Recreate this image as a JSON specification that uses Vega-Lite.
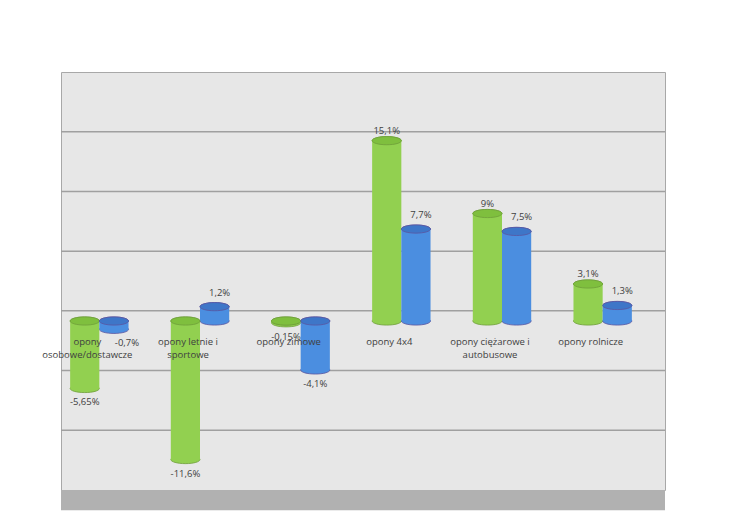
{
  "$schema": "https://vega.github.io/schema/vega-lite/v6.json",
  "autosize": {"type": "none"},
  "width": 604,
  "height": 418,
  "padding": {"left": 61, "top": 72, "right": 74, "bottom": 34},
  "background": "white",
  "config": {
    "font": "Open Sans",
    "view": {"fill": "#e7e7e7", "stroke": "#a8a8a8", "strokeWidth": 1}
  },
  "data": {
    "values": [
      {"cat": "osobowe", "series": "Polska", "value": -5.65, "label": "-5,65%"},
      {"cat": "osobowe", "series": "Europa", "value": -0.7, "label": "-0,7%"},
      {"cat": "letnie", "series": "Polska", "value": -11.6, "label": "-11,6%"},
      {"cat": "letnie", "series": "Europa", "value": 1.2, "label": "1,2%"},
      {"cat": "zimowe", "series": "Polska", "value": -0.15, "label": "-0,15%"},
      {"cat": "zimowe", "series": "Europa", "value": -4.1, "label": "-4,1%"},
      {"cat": "4x4", "series": "Polska", "value": 15.1, "label": "15,1%"},
      {"cat": "4x4", "series": "Europa", "value": 7.7, "label": "7,7%"},
      {"cat": "ciezarowe", "series": "Polska", "value": 9, "label": "9%"},
      {"cat": "ciezarowe", "series": "Europa", "value": 7.5, "label": "7,5%"},
      {"cat": "rolnicze", "series": "Polska", "value": 3.1, "label": "3,1%"},
      {"cat": "rolnicze", "series": "Europa", "value": 1.3, "label": "1,3%"}
    ]
  },
  "resolve": {"scale": {"y": "independent"}},
  "layer": [
    {
      "data": {"values": [{"g": -10}, {"g": -5}, {"g": 0}, {"g": 5}, {"g": 10}, {"g": 15}]},
      "mark": {"type": "rule", "color": "#a0a0a0", "strokeWidth": 1.5},
      "encoding": {
        "y": {"field": "g", "type": "quantitative", "axis": null, "scale": {"domain": [-15, 20], "nice": false, "zero": false}}
      }
    },
    {
      "data": {"values": [{"f": 1}]},
      "mark": {"type": "rect", "color": "#b1b1b1", "clip": false},
      "encoding": {
        "y": {"datum": -15, "type": "quantitative", "axis": null, "scale": {"domain": [-15, 20], "nice": false, "zero": false}},
        "y2": {"datum": -16.7}
      }
    },
    {
      "mark": {"type": "point", "shape": "M-1,0A1,0.28,0,1,1,1,0A1,0.28,0,1,1,-1,0Z", "size": 853, "filled": true, "opacity": 1, "strokeWidth": 0.8},
      "encoding": {
        "x": {"field": "cat", "type": "nominal", "axis": null, "scale": {"domain": ["osobowe", "letnie", "zimowe", "4x4", "ciezarowe", "rolnicze"], "range": [-12, 592], "paddingInner": 0.42, "paddingOuter": 0.21}},
        "xOffset": {"field": "series", "type": "nominal", "scale": {"domain": ["Polska", "Europa"], "paddingInner": 0, "paddingOuter": 0}},
        "y": {"field": "value", "type": "quantitative", "axis": null, "scale": {"domain": [-14.15, 20.85], "nice": false, "zero": false}},
        "color": {"field": "series", "type": "nominal", "scale": {"domain": ["Polska", "Europa"], "range": ["#92d050", "#4b8ee0"]}, "legend": null},
        "stroke": {"field": "series", "type": "nominal", "scale": {"domain": ["Polska", "Europa"], "range": ["#6f9e3a", "#5a55a0"]}, "legend": null}
      }
    },
    {
      "mark": {"type": "point", "shape": "M-1,0A1,0.28,0,1,1,1,0A1,0.28,0,1,1,-1,0Z", "size": 853, "filled": true, "opacity": 1, "strokeWidth": 0.8},
      "encoding": {
        "x": {"field": "cat", "type": "nominal", "axis": null, "scale": {"domain": ["osobowe", "letnie", "zimowe", "4x4", "ciezarowe", "rolnicze"], "range": [-12, 592], "paddingInner": 0.42, "paddingOuter": 0.21}},
        "xOffset": {"field": "series", "type": "nominal", "scale": {"domain": ["Polska", "Europa"], "paddingInner": 0, "paddingOuter": 0}},
        "y": {"datum": 0, "type": "quantitative", "axis": null, "scale": {"domain": [-14.15, 20.85], "nice": false, "zero": false}},
        "color": {"field": "series", "type": "nominal", "scale": {"domain": ["Polska", "Europa"], "range": ["#92d050", "#4b8ee0"]}, "legend": null},
        "stroke": {"field": "series", "type": "nominal", "scale": {"domain": ["Polska", "Europa"], "range": ["#6f9e3a", "#5a55a0"]}, "legend": null}
      }
    },
    {
      "mark": {"type": "bar"},
      "encoding": {
        "x": {"field": "cat", "type": "nominal", "axis": null, "scale": {"domain": ["osobowe", "letnie", "zimowe", "4x4", "ciezarowe", "rolnicze"], "range": [-12, 592], "paddingInner": 0.42, "paddingOuter": 0.21}},
        "xOffset": {"field": "series", "type": "nominal", "scale": {"domain": ["Polska", "Europa"], "paddingInner": 0, "paddingOuter": 0}},
        "y": {"field": "value", "type": "quantitative", "axis": null, "scale": {"domain": [-14.15, 20.85], "nice": false, "zero": false}},
        "y2": {"datum": 0},
        "color": {
          "field": "series", "type": "nominal",
          "scale": {"domain": ["Polska", "Europa"], "range": ["#92d050", "#4b8ee0"]},
          "legend": {"title": null, "orient": "none", "legendX": 626, "legendY": 202, "symbolType": "square", "symbolSize": 60, "symbolStrokeColor": "#7a7a7a", "symbolStrokeWidth": 0.7, "labelFont": "Open Sans", "labelFontSize": 10, "labelColor": "#404040", "rowPadding": 5}
        }
      }
    },
    {
      "transform": [{"filter": "datum.value >= 0"}],
      "mark": {"type": "point", "shape": "M-1,0A1,0.28,0,1,1,1,0A1,0.28,0,1,1,-1,0Z", "size": 853, "filled": true, "opacity": 1, "strokeWidth": 0.8},
      "encoding": {
        "x": {"field": "cat", "type": "nominal", "axis": null, "scale": {"domain": ["osobowe", "letnie", "zimowe", "4x4", "ciezarowe", "rolnicze"], "range": [-12, 592], "paddingInner": 0.42, "paddingOuter": 0.21}},
        "xOffset": {"field": "series", "type": "nominal", "scale": {"domain": ["Polska", "Europa"], "paddingInner": 0, "paddingOuter": 0}},
        "y": {"field": "value", "type": "quantitative", "axis": null, "scale": {"domain": [-14.15, 20.85], "nice": false, "zero": false}},
        "fill": {"field": "series", "type": "nominal", "scale": {"domain": ["Polska", "Europa"], "range": ["#7fbf3e", "#3e76c8"]}, "legend": null},
        "stroke": {"field": "series", "type": "nominal", "scale": {"domain": ["Polska", "Europa"], "range": ["#6f9e3a", "#5a55a0"]}, "legend": null}
      }
    },
    {
      "transform": [{"filter": "datum.value < 0"}],
      "mark": {"type": "point", "shape": "M-1,0A1,0.28,0,1,1,1,0A1,0.28,0,1,1,-1,0Z", "size": 853, "filled": true, "opacity": 1, "strokeWidth": 0.8},
      "encoding": {
        "x": {"field": "cat", "type": "nominal", "axis": null, "scale": {"domain": ["osobowe", "letnie", "zimowe", "4x4", "ciezarowe", "rolnicze"], "range": [-12, 592], "paddingInner": 0.42, "paddingOuter": 0.21}},
        "xOffset": {"field": "series", "type": "nominal", "scale": {"domain": ["Polska", "Europa"], "paddingInner": 0, "paddingOuter": 0}},
        "y": {"datum": 0, "type": "quantitative", "axis": null, "scale": {"domain": [-14.15, 20.85], "nice": false, "zero": false}},
        "fill": {"field": "series", "type": "nominal", "scale": {"domain": ["Polska", "Europa"], "range": ["#7fbf3e", "#3e76c8"]}, "legend": null},
        "stroke": {"field": "series", "type": "nominal", "scale": {"domain": ["Polska", "Europa"], "range": ["#6f9e3a", "#5a55a0"]}, "legend": null}
      }
    },
    {
      "data": {
        "values": [
          {"cat": "osobowe", "name": ["opony", "osobowe/dostawcze"]},
          {"cat": "letnie", "name": ["opony letnie i", "sportowe"]},
          {"cat": "zimowe", "name": ["opony zimowe"]},
          {"cat": "4x4", "name": ["opony 4x4"]},
          {"cat": "ciezarowe", "name": ["opony ciężarowe i", "autobusowe"]},
          {"cat": "rolnicze", "name": ["opony rolnicze"]}
        ]
      },
      "mark": {"type": "text", "baseline": "top", "align": "center", "dx": -12, "dy": 16, "fontSize": 9.5, "lineHeight": 12.5, "color": "#404040"},
      "encoding": {
        "x": {"field": "cat", "type": "nominal", "axis": null, "scale": {"domain": ["osobowe", "letnie", "zimowe", "4x4", "ciezarowe", "rolnicze"], "range": [-12, 592], "paddingInner": 0.42, "paddingOuter": 0.21}},
        "y": {"datum": 0, "type": "quantitative", "axis": null, "scale": {"domain": [-14.15, 20.85], "nice": false, "zero": false}},
        "text": {"field": "name"}
      }
    },
    {
      "transform": [{"filter": "datum.value >= 0 && datum.series == 'Polska'"}],
      "mark": {"type": "text", "baseline": "bottom", "align": "center", "dy": -5, "fontSize": 9.5, "color": "#404040"},
      "encoding": {
        "x": {"field": "cat", "type": "nominal", "axis": null, "scale": {"domain": ["osobowe", "letnie", "zimowe", "4x4", "ciezarowe", "rolnicze"], "range": [-12, 592], "paddingInner": 0.42, "paddingOuter": 0.21}},
        "xOffset": {"field": "series", "type": "nominal", "scale": {"domain": ["Polska", "Europa"], "paddingInner": 0, "paddingOuter": 0}},
        "y": {"field": "value", "type": "quantitative", "axis": null, "scale": {"domain": [-14.15, 20.85], "nice": false, "zero": false}},
        "text": {"field": "label"}
      }
    },
    {
      "transform": [{"filter": "datum.value >= 0 && datum.series == 'Europa'"}],
      "mark": {"type": "text", "baseline": "bottom", "align": "center", "dx": 5, "dy": -9, "fontSize": 9.5, "color": "#404040"},
      "encoding": {
        "x": {"field": "cat", "type": "nominal", "axis": null, "scale": {"domain": ["osobowe", "letnie", "zimowe", "4x4", "ciezarowe", "rolnicze"], "range": [-12, 592], "paddingInner": 0.42, "paddingOuter": 0.21}},
        "xOffset": {"field": "series", "type": "nominal", "scale": {"domain": ["Polska", "Europa"], "paddingInner": 0, "paddingOuter": 0}},
        "y": {"field": "value", "type": "quantitative", "axis": null, "scale": {"domain": [-14.15, 20.85], "nice": false, "zero": false}},
        "text": {"field": "label"}
      }
    },
    {
      "transform": [{"filter": "datum.value < 0 && !(datum.series == 'Europa' && datum.value > -1)"}],
      "mark": {"type": "text", "baseline": "top", "align": "center", "dy": 9, "fontSize": 9.5, "color": "#404040"},
      "encoding": {
        "x": {"field": "cat", "type": "nominal", "axis": null, "scale": {"domain": ["osobowe", "letnie", "zimowe", "4x4", "ciezarowe", "rolnicze"], "range": [-12, 592], "paddingInner": 0.42, "paddingOuter": 0.21}},
        "xOffset": {"field": "series", "type": "nominal", "scale": {"domain": ["Polska", "Europa"], "paddingInner": 0, "paddingOuter": 0}},
        "y": {"field": "value", "type": "quantitative", "axis": null, "scale": {"domain": [-14.15, 20.85], "nice": false, "zero": false}},
        "text": {"field": "label"}
      }
    },
    {
      "transform": [{"filter": "datum.series == 'Europa' && datum.value < 0 && datum.value > -1"}],
      "mark": {"type": "text", "baseline": "top", "align": "center", "dx": 13, "dy": 9, "fontSize": 9.5, "color": "#404040"},
      "encoding": {
        "x": {"field": "cat", "type": "nominal", "axis": null, "scale": {"domain": ["osobowe", "letnie", "zimowe", "4x4", "ciezarowe", "rolnicze"], "range": [-12, 592], "paddingInner": 0.42, "paddingOuter": 0.21}},
        "xOffset": {"field": "series", "type": "nominal", "scale": {"domain": ["Polska", "Europa"], "paddingInner": 0, "paddingOuter": 0}},
        "y": {"field": "value", "type": "quantitative", "axis": null, "scale": {"domain": [-14.15, 20.85], "nice": false, "zero": false}},
        "text": {"field": "label"}
      }
    }
  ]
}
